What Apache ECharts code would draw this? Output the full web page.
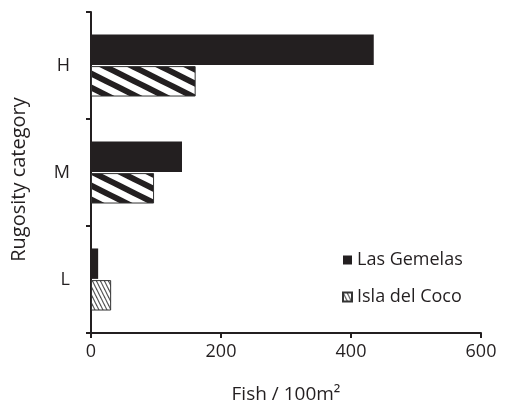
<!DOCTYPE html>
<html>
<head>
<meta charset="utf-8">
<script src="https://cdn.jsdelivr.net/npm/echarts@6/dist/echarts.min.js"></script>
<style>
html,body{margin:0;padding:0;background:#fff;}
#main{width:506px;height:409px;}
</style>
</head>
<body>
<div id="main"></div>
<script>
// data
var categories = ['L', 'M', 'H'];
var lasGemelas = [11, 140, 435];
var islaDelCoco = [31, 97, 161];
var xMin = 0, xMax = 600, xStep = 200;

var ink = '#231f20';
var font = 'Open Sans';

// coarse hatch  (\\\) for the big bars
function coarseHatch() {
    var c = document.createElement('canvas');
    c.width = 28; c.height = 14;
    var g = c.getContext('2d');
    g.fillStyle = '#fff';
    g.fillRect(0, 0, 28, 14);
    g.strokeStyle = ink;
    g.lineWidth = 6;
    for (var k = -2; k <= 2; k++) {
        g.beginPath();
        g.moveTo(-28, -14 + k * 14);
        g.lineTo(56, 28 + k * 14);
        g.stroke();
    }
    return c;
}
// dense hatch for small bar + legend
function denseHatch() {
    var c = document.createElement('canvas');
    c.width = 4; c.height = 8;
    var g = c.getContext('2d');
    g.fillStyle = '#fff';
    g.fillRect(0, 0, 4, 8);
    g.strokeStyle = '#555';
    g.lineWidth = 1.2;
    for (var x0 = -8; x0 <= 8; x0 += 4) {
        g.beginPath();
        g.moveTo(x0 - 2, -4);
        g.lineTo(x0 + 6, 12);
        g.stroke();
    }
    return c;
}
var coarse = {image: coarseHatch(), repeat: 'repeat'};
var dense = {image: denseHatch(), repeat: 'repeat'};

var cocoData = islaDelCoco.map(function (v, i) {
    if (i === 0) return v;
    return {value: v, itemStyle: {color: coarse}};
});

var chart = echarts.init(document.getElementById('main'));
var option = {
    animation: false,
    textStyle: {fontFamily: font, color: ink},
    grid: {left: 91, right: 25, top: 12, bottom: 76, outerBoundsMode: 'none'},
    legend: {
        data: ['Las Gemelas', 'Isla del Coco'],
        orient: 'vertical',
        left: 337,
        top: 246,
        itemWidth: 9,
        itemHeight: 9,
        itemGap: 19,
        icon: 'rect',
        textStyle: {fontFamily: font, fontSize: 18, color: ink}
    },
    xAxis: {
        type: 'value',
        min: xMin,
        max: xMax,
        interval: xStep,
        name: 'Fish / 100m²',
        nameLocation: 'middle',
        nameGap: 52,
        nameTextStyle: {fontFamily: font, fontSize: 19, color: ink},
        axisLine: {show: true, lineStyle: {color: ink, width: 2}},
        axisTick: {show: true, length: 5, lineStyle: {color: ink, width: 2}},
        axisLabel: {fontFamily: font, fontSize: 18, color: ink, margin: 10},
        splitLine: {show: false}
    },
    yAxis: {
        type: 'category',
        data: categories,
        name: 'Rugosity category',
        nameLocation: 'middle',
        nameGap: 62,
        nameTextStyle: {fontFamily: font, fontSize: 20, color: ink, padding: [0, 14, 0, 0]},
        axisLine: {show: true, lineStyle: {color: ink, width: 2}},
        axisTick: {show: true, length: 5, lineStyle: {color: ink, width: 2}},
        axisLabel: {fontFamily: font, fontSize: 18, color: ink, margin: 21}
    },
    series: [
        {
            name: 'Las Gemelas',
            type: 'bar',
            barGap: '4%',
            barCategoryGap: '42%',
            itemStyle: {color: ink},
            data: lasGemelas
        },
        {
            name: 'Isla del Coco',
            type: 'bar',
            barGap: '4%',
            barCategoryGap: '42%',
            itemStyle: {color: dense, borderColor: '#333', borderWidth: 1},
            data: cocoData
        }
    ]
};
chart.setOption(option);
</script>
</body>
</html>
